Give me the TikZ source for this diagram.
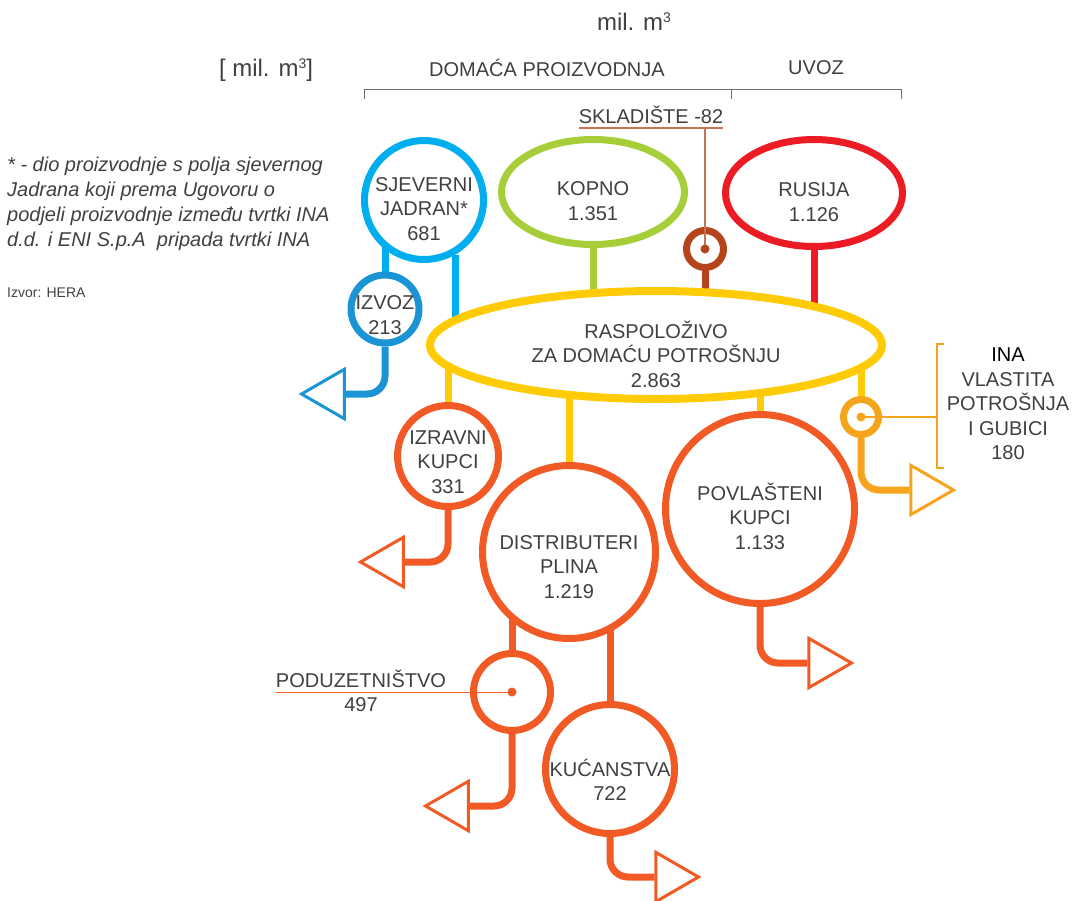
\documentclass[tikz,border=0pt]{standalone}
\usepackage{fontspec}
\setmainfont{Liberation Sans}
\usetikzlibrary{shapes.geometric,backgrounds}
\definecolor{svplava}{HTML}{00AEEF}
\definecolor{tplava}{HTML}{1B94D6}
\definecolor{zelena}{HTML}{A6CE39}
\definecolor{crvena}{HTML}{ED1C24}
\definecolor{smeda}{HTML}{B5441A}
\definecolor{zuta}{HTML}{FFCB05}
\definecolor{narancasta}{HTML}{F15A24}
\definecolor{inaboja}{HTML}{F7A41D}
\definecolor{tekst}{HTML}{404040}
\definecolor{crta}{HTML}{6E6E6E}
\newcommand{\kub}{\raisebox{0.62ex}{\fontsize{14}{14}\selectfont 3}}
\tikzset{
	krug/.style={circle, draw=#1, fill=white, line width=7pt, inner sep=0pt},
	elipsa/.style={ellipse, draw=#1, fill=white, line width=7pt, inner sep=0pt},
	cijev/.style={draw=#1, line width=7pt},
	izlaz/.style={regular polygon, regular polygon sides=3, draw=#1, fill=white, line width=3pt, inner sep=0pt, minimum size=57pt},
	opis/.style={font=\fontsize{20}{24.5}\selectfont, align=center, text=tekst},
	natpis/.style={opis, yshift=-9pt},
	tanka/.style={draw=#1, line width=1.2pt}
}
\begin{document}
\begin{tikzpicture}[x=1pt,y=-1pt]
	\useasboundingbox (0,0) rectangle (1073,900);
	\path
	(634,22) node[opis, font=\fontsize{24}{28}\selectfont](jed){mil. m\kub}
	(266,70) node[opis, font=\fontsize{24}{28}\selectfont](jed2){[ mil. m\kub]}
	(547,68) node[opis](domaca){DOMAĆA PROIZVODNJA}
	(816,68) node[opis](uvoz){UVOZ}
	(7,204) node[opis, anchor=west, align=left, inner sep=0pt, font=\fontsize{20}{25}\selectfont\itshape](fusnota){* - dio proizvodnje s polja sjevernog\\Jadrana koji prema Ugovoru o\\podjeli proizvodnje između tvrtki INA\\d.d. i ENI S.p.A\ \ pripada tvrtki INA}
	(7,293) node[opis, anchor=west, inner sep=0pt, font=\fontsize{14}{16}\selectfont](izvor){Izvor: HERA}
	;
	\coordinate (dL) at (364,89);
	\coordinate (dM) at (731,89);
	\coordinate (dR) at (901,89);
	\draw[tanka=crta, line width=0.9pt] ([yshift=-10pt]dL) -- (dL) -- (dR) -- ([yshift=-10pt]dR);
	\draw[tanka=crta, line width=0.9pt] (dM) -- ([yshift=-10pt]dM);
	% izvori
	\path
	(424,200) node[krug=svplava, minimum size=119pt, label={[natpis]center:SJEVERNI\\JADRAN*\\681}](sjev){}
	(385,309) node[krug=tplava, minimum size=68pt, label={[natpis, yshift=3pt]center:IZVOZ\\213}](izvoz){}
	(593,192) node[elipsa=zelena, minimum width=183pt, minimum height=105pt, label={[natpis]center:KOPNO\\1.351}](kopno){}
	(814,193) node[elipsa=crvena, minimum width=177pt, minimum height=107pt, label={[natpis]center:RUSIJA\\1.126}](rusija){}
	(705,249) node[krug=smeda, minimum size=37pt](skl){}
	(651,128) node[opis, anchor=south, inner xsep=0pt, inner ysep=4pt](sklLbl){SKLADIŠTE -82}
	(656,345) node[elipsa=zuta, line width=8pt, minimum width=452pt, minimum height=108pt, label={[natpis]center:RASPOLOŽIVO\\ZA DOMAĆU POTROŠNJU\\2.863}](rasp){}
	;
	% potrosnja
	\path
	(448,456) node[krug=narancasta, minimum size=101pt, label={[natpis, yshift=3pt]center:IZRAVNI\\KUPCI\\331}](izr){}
	(569,552) node[krug=narancasta, minimum size=173pt, label={[natpis, yshift=-6pt]center:DISTRIBUTERI\\PLINA\\1.219}](distr){}
	(760,509) node[krug=narancasta, minimum size=189pt, label={[natpis, yshift=2pt]center:POVLAŠTENI\\KUPCI\\1.133}](povl){}
	(861,417) node[krug=inaboja, minimum size=35pt](ina){}
	(1008,404) node[opis](inaLbl){{\color{black}INA}\\VLASTITA\\POTROŠNJA\\I GUBICI\\180}
	(512,692) node[krug=narancasta, minimum size=77pt](podu){}
	(361,692) node[opis, anchor=south, inner xsep=0pt, inner ysep=4pt](poduLbl){PODUZETNIŠTVO}
	(361,692) node[opis, anchor=north, inner ysep=5pt](poduVal){497}
	(610,769) node[krug=narancasta, minimum size=129pt, label={[natpis, yshift=-2pt]center:KUĆANSTVA\\722}](kuc){}
	;
	% izlazi
	\path
	(330,394) node[izlaz=tplava, rotate=90](tIzvoz){}
	(389,562) node[izlaz=narancasta, rotate=90](tIzr){}
	(454,806) node[izlaz=narancasta, rotate=90](tPodu){}
	(670,877) node[izlaz=narancasta, rotate=-90](tKuc){}
	(823,663) node[izlaz=narancasta, rotate=-90](tPovl){}
	(925,490) node[izlaz=inaboja, rotate=-90](tIna){}
	;
	\begin{scope}[on background layer]
		\draw[cijev=svplava] (izvoz.center) -- (izvoz.center |- sjev.center);
		\draw[cijev=svplava] (sjev.-60) -- (sjev.-60 |- rasp.center);
		\draw[cijev=zelena] (kopno.center) -- (kopno.center |- rasp.center);
		\draw[cijev=smeda] (skl.center) -- (skl.center |- rasp.center);
		\draw[cijev=crvena] (rusija.center) -- (rusija.center |- rasp.center);
		\draw[cijev=zuta] (izr.center) -- (izr.center |- rasp.center);
		\draw[cijev=zuta] (distr.center) -- (distr.center |- rasp.center);
		\draw[cijev=zuta] (povl.center) -- (povl.center |- rasp.center);
		\draw[cijev=zuta] (ina.center) -- (ina.center |- rasp.center);
		\draw[cijev=narancasta] (podu.center) -- (podu.center |- distr.center);
		\draw[cijev=narancasta] (kuc.center) -- (kuc.center |- distr.center);
		\draw[cijev=tplava, rounded corners=18pt] (izvoz.south) |- (tIzvoz.south);
		\draw[cijev=narancasta, rounded corners=18pt] (izr.south) |- (tIzr.south);
		\draw[cijev=narancasta, rounded corners=18pt] (podu.south) |- (tPodu.south);
		\draw[cijev=narancasta, rounded corners=18pt] (kuc.south) |- (tKuc.south);
		\draw[cijev=narancasta, rounded corners=18pt] (povl.south) |- (tPovl.south);
		\draw[cijev=inaboja, rounded corners=18pt] (ina.south) |- (tIna.south);
	\end{scope}
	% oznake
	\draw[tanka=smeda!75] (sklLbl.south west) -- (sklLbl.south east);
	\draw[tanka=smeda!75] (skl.center) -- (skl.center |- sklLbl.south);
	\fill[smeda] (skl.center) circle (4.5pt);
	\draw[tanka=narancasta, line width=1pt] (podu.center) -- (podu.center -| poduLbl.west);
	\fill[narancasta] (podu.center) circle (4.5pt);
	\coordinate (inaG) at (937,344);
	\coordinate (inaD) at (937,468);
	\draw[tanka=inaboja] ([xshift=7pt]inaG) -- (inaG) -- (inaD) -- ([xshift=7pt]inaD);
	\draw[tanka=inaboja] (ina.center) -- (ina.center -| inaG);
	\fill[inaboja] (ina.center) circle (4.5pt);
\end{tikzpicture}
\end{document}
